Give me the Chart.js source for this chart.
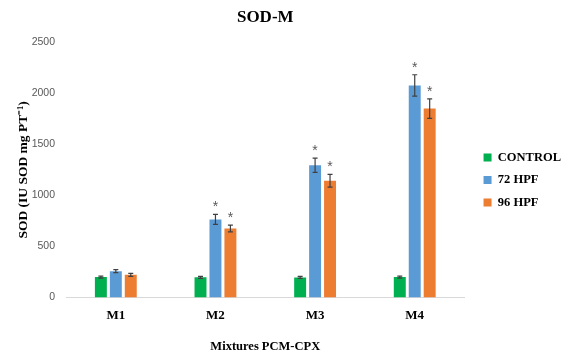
<!DOCTYPE html>
<html>
<head>
<meta charset="utf-8">
<script src="https://cdn.jsdelivr.net/npm/chart.js@4/dist/chart.umd.min.js"></script>
<style>
  html, body { margin: 0; padding: 0; background: #ffffff; }
  #wrap { width: 571px; height: 358px; position: relative; }
</style>
</head>
<body>
<div id="wrap"><canvas id="c"></canvas></div>
<script>
const categories = ['M1', 'M2', 'M3', 'M4'];
const seriesNames = ['CONTROL', '72 HPF', '96 HPF'];
const controlValues = [199, 197, 196, 199];
const controlErrors = [10, 10, 10, 10];
const hpf72Values = [257, 764, 1295, 2078];
const hpf72Errors = [15, 49, 70, 105];
const hpf96Values = [221, 676, 1144, 1851];
const hpf96Errors = [15, 33, 63, 96];
const controlStars = [false, false, false, false];
const hpf72Stars = [false, true, true, true];
const hpf96Stars = [false, true, true, true];
const yTicks = [0, 500, 1000, 1500, 2000, 2500];

const serif = '"Liberation Serif", "Times New Roman", serif';
const sans = '"Liberation Sans", Arial, sans-serif';
const LEGEND_GAP = 9;

const legendGapPlugin = {
  id: 'legendGap',
  afterInit(chart) {
    const lg = chart.legend;
    if (lg && !lg._gapPatched) {
      const origFit = lg.fit;
      lg.fit = function () { origFit.call(this); this.width += LEGEND_GAP; };
      lg._gapPatched = true;
    }
  },
  afterLayout(chart) {
    const lg = chart.legend;
    if (lg) { lg.left += LEGEND_GAP; }
  }
};

const errorPlugin = {
  id: 'errorBars',
  afterDatasetsDraw(chart) {
    const ctx = chart.ctx;
    const y = chart.scales.y;
    chart.data.datasets.forEach((ds, di) => {
      const meta = chart.getDatasetMeta(di);
      meta.data.forEach((bar, i) => {
        const v = ds.data[i];
        const e = ds.errors[i];
        const yTop = y.getPixelForValue(v + e);
        const yBot = y.getPixelForValue(v - e);
        const x = bar.x;
        ctx.save();
        ctx.strokeStyle = '#404040';
        ctx.lineWidth = 1.2;
        ctx.beginPath();
        ctx.moveTo(x, yTop); ctx.lineTo(x, yBot);
        ctx.moveTo(x - 2.5, yTop); ctx.lineTo(x + 2.5, yTop);
        ctx.moveTo(x - 2.5, yBot); ctx.lineTo(x + 2.5, yBot);
        ctx.stroke();
        if (ds.stars[i]) {
          ctx.fillStyle = '#595959';
          ctx.font = '14px ' + sans;
          ctx.textAlign = 'center';
          ctx.textBaseline = 'middle';
          ctx.fillText('*', x, yTop - 7);
        }
        ctx.restore();
      });
    });
  }
};

new Chart(document.getElementById('c'), {
  type: 'bar',
  data: {
    labels: categories,
    datasets: [
      { label: seriesNames[0], data: controlValues, errors: controlErrors, stars: controlStars, backgroundColor: '#00b050' },
      { label: seriesNames[1], data: hpf72Values, errors: hpf72Errors, stars: hpf72Stars, backgroundColor: '#5b9bd5' },
      { label: seriesNames[2], data: hpf96Values, errors: hpf96Errors, stars: hpf96Stars, backgroundColor: '#ed7d31' }
    ]
  },
  options: {
    responsive: true,
    maintainAspectRatio: false,
    animation: false,
    categoryPercentage: 0.45,
    barPercentage: 0.8,
    layout: { padding: { left: 10, right: 0, top: 6, bottom: 4 } },
    plugins: {
      title: {
        display: true,
        text: 'SOD-M',
        fullSize: false,
        color: '#000',
        font: { family: serif, size: 17, weight: 'bold' },
        padding: { top: 1, bottom: 15 }
      },
      legend: {
        position: 'right',
        align: 'center',
        labels: {
          color: '#000',
          boxWidth: 8,
          boxHeight: 8,
          padding: 10,
          font: { family: serif, size: 12.5, weight: 'bold' }
        }
      },
      tooltip: { enabled: false }
    },
    scales: {
      x: {
        grid: { display: false, drawTicks: false },
        border: { display: true, color: '#d9d9d9', width: 1 },
        ticks: { color: '#000', padding: 10, font: { family: serif, size: 13, weight: 'bold' } },
        title: {
          display: true,
          text: 'Mixtures PCM-CPX',
          color: '#000',
          font: { family: serif, size: 12.5, weight: 'bold' },
          padding: { top: 6, bottom: 0 }
        }
      },
      y: {
        min: 0,
        max: 2500,
        afterFit(s) { s.width = 56; },
        afterBuildTicks(s) { s.ticks = yTicks.map(v => ({ value: v })); },
        grid: { display: false, drawTicks: false },
        border: { display: false },
        ticks: { color: '#595959', padding: 11, font: { family: sans, size: 10.5 }, callback: v => String(v) },
        title: {
          display: true,
          text: 'SOD (IU SOD mg PT⁻¹)',
          color: '#000',
          font: { family: serif, size: 13.5, weight: 'bold' },
          padding: { top: 5, bottom: 0 }
        }
      }
    }
  },
  plugins: [legendGapPlugin, errorPlugin]
});
</script>
</body>
</html>
